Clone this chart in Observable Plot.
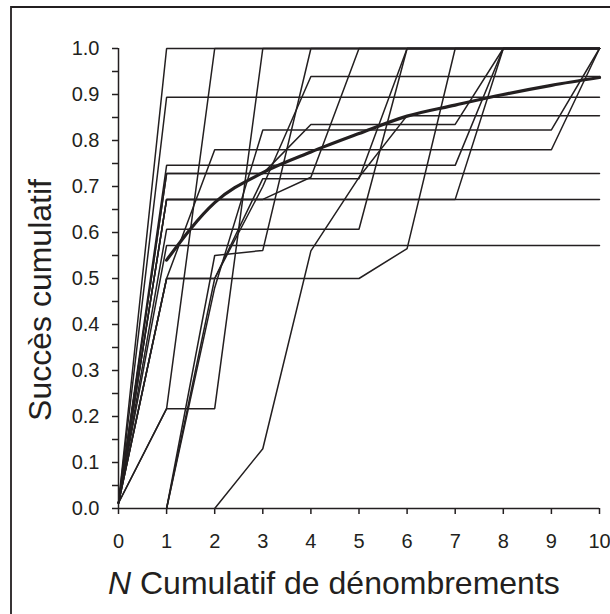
<!DOCTYPE html>
<html>
<head>
<meta charset="utf-8">
<script src="https://cdn.jsdelivr.net/npm/d3@7"></script>
<script src="https://cdn.jsdelivr.net/npm/@observablehq/plot@0.6"></script>
<style>
  html, body { margin: 0; padding: 0; background: #fff; }
  #chart { width: 610px; height: 614px; overflow: hidden; }
</style>
</head>
<body>
<div id="chart"></div>
<script>
// Number of cumulative counts (x values)
const nCounts = [0, 1, 2, 3, 4, 5, 6, 7, 8, 9, 10];

// Cumulative success per individual series (value at each N; null = not yet started)
const serie01 = [0.012, 1.0, 1.0, 1.0, 1.0, 1.0, 1.0, 1.0, 1.0, 1.0, 1.0];
const serie02 = [0.012, 0.894, 0.894, 0.894, 0.894, 0.894, 0.894, 0.894, 0.894, 0.894, 0.894];
const serie03 = [0.012, 0.746, 0.746, 0.746, 0.746, 0.746, 0.746, 0.746, 1.0, 1.0, 1.0];
const serie04 = [0.012, 0.728, 0.728, 0.728, 0.728, 0.728, 0.728, 0.728, 0.728, 0.728, 0.728];
const serie05 = [0.012, 0.672, 0.672, 0.672, 0.672, 0.672, 0.672, 0.672, 0.672, 0.672, 0.672];
const serie06 = [0.012, 0.607, 0.607, 0.607, 0.607, 0.607, 1.0, 1.0, 1.0, 1.0, 1.0];
const serie07 = [0.012, 0.572, 0.572, 0.572, 0.572, 0.572, 0.572, 0.572, 0.572, 0.572, 0.572];
const serie08 = [0.012, 0.5, 0.5, 0.5, 0.5, 0.5, 0.565, 1.0, 1.0, 1.0, 1.0];
const serie09 = [0.012, 0.217, 1.0, 1.0, 1.0, 1.0, 1.0, 1.0, 1.0, 1.0, 1.0];
const serie10 = [0.012, 0.217, 0.217, 1.0, 1.0, 1.0, 1.0, 1.0, 1.0, 1.0, 1.0];
const serie11 = [0.012, 0.5, 0.78, 0.78, 0.78, 0.78, 0.78, 0.78, 0.78, 0.78, 1.0];
const serie12 = [null, 0, 0.5, 0.7, 0.939, 0.939, 0.939, 0.939, 0.939, 0.939, 0.939];
const serie13 = [null, 0, 0.55, 0.561, 1.0, 1.0, 1.0, 1.0, 1.0, 1.0, 1.0];
const serie14 = [null, 0, 0.48, 0.823, 0.823, 0.823, 0.823, 0.823, 0.823, 0.823, 1.0];
const serie15 = [null, null, 0, 0.13, 0.56, 0.72, 0.854, 0.854, 0.854, 0.854, 0.854];
const serie16 = [0.012, 0.672, 0.672, 0.672, 0.672, 0.672, 0.672, 0.672, 1.0, 1.0, 1.0];
const serie17 = [0.012, 0.728, 0.728, 0.728, 0.835, 0.835, 0.835, 0.835, 1.0, 1.0, 1.0];
const serie18 = [0.012, 0.5, 0.5, 0.717, 0.717, 0.717, 1.0, 1.0, 1.0, 1.0, 1.0];
const serie19 = [0.012, 0.672, 0.672, 0.672, 0.72, 1.0, 1.0, 1.0, 1.0, 1.0, 1.0];

// Mean cumulative success (thick curve)
const moyenne = [null, 0.54, 0.665, 0.73, 0.775, 0.815, 0.853, 0.877, 0.9, 0.92, 0.937];

// Tick values and labels
const xTicks = [0, 1, 2, 3, 4, 5, 6, 7, 8, 9, 10];
const yTicks = [0, 0.1, 0.2, 0.3, 0.4, 0.5, 0.6, 0.7, 0.8, 0.9, 1.0];
const yMinorTicks = [0.05, 0.15, 0.25, 0.35, 0.45, 0.55, 0.65, 0.75, 0.85, 0.95];
const xTitleItalic = "N";
const xTitleRest = " Cumulatif de dénombrements";
const yTitle = "Succès cumulatif";

const allSeries = [serie01, serie02, serie03, serie04, serie05, serie06, serie07, serie08, serie09, serie10,
                   serie11, serie12, serie13, serie14, serie15, serie16, serie17, serie18, serie19];

const lineData = allSeries.flatMap((vals, i) =>
  vals.map((s, k) => ({id: i, n: nCounts[k], s})).filter(d => d.s != null));
const meanData = moyenne.map((s, k) => ({n: nCounts[k], s})).filter(d => d.s != null);

const ink = "#231f20";
const fontFamily = "'Liberation Sans', Arial, Helvetica, sans-serif";

const chart = Plot.plot({
  width: 610,
  height: 614,
  marginLeft: 118,
  marginRight: 11,
  marginTop: 48,
  marginBottom: 106,
  style: {fontFamily, color: ink, background: "#fff", overflow: "visible"},
  x: {domain: [0, 10]},
  y: {domain: [0, 1]},
  marks: [
    Plot.line(lineData, {x: "n", y: "s", z: "id", stroke: ink, strokeWidth: 1.5, strokeLinejoin: "miter"}),
    Plot.line(meanData, {x: "n", y: "s", stroke: ink, strokeWidth: 3.2, curve: "monotone-x"}),
    Plot.ruleY([0], {stroke: ink, strokeWidth: 1.5}),
    Plot.ruleX([0], {stroke: ink, strokeWidth: 1.5}),
    Plot.axisX(xTicks, {tickSize: 6, tickPadding: 19, fontSize: 20, label: null, stroke: ink, strokeWidth: 1.5, tickFormat: d => String(d)}),
    Plot.axisY(yTicks, {tickSize: 6, tickPadding: 13, fontSize: 20, label: null, stroke: ink, strokeWidth: 1.5, tickFormat: d3.format(".1f")}),
    Plot.axisY(yMinorTicks, {tickSize: 6, text: null, label: null, stroke: ink, strokeWidth: 1.5})
  ]
});

const svg = d3.select(chart);
// outer frame (left and top edges, as in the reference)
svg.append("path")
  .attr("d", "M11,640V7H640")
  .attr("fill", "none").attr("stroke", ink).attr("stroke-width", 1.8);

const xt = svg.append("text")
  .attr("x", 108).attr("y", 594)
  .attr("text-anchor", "start")
  .attr("font-size", 32).attr("fill", ink).attr("font-family", fontFamily);
xt.append("tspan").attr("font-style", "italic").text(xTitleItalic);
xt.append("tspan").text(xTitleRest);

svg.append("text")
  .attr("transform", "translate(51,300) rotate(-90)")
  .attr("text-anchor", "middle")
  .attr("font-size", 32).attr("fill", ink).attr("font-family", fontFamily)
  .text(yTitle);

document.getElementById("chart").appendChild(chart);
</script>
</body>
</html>
